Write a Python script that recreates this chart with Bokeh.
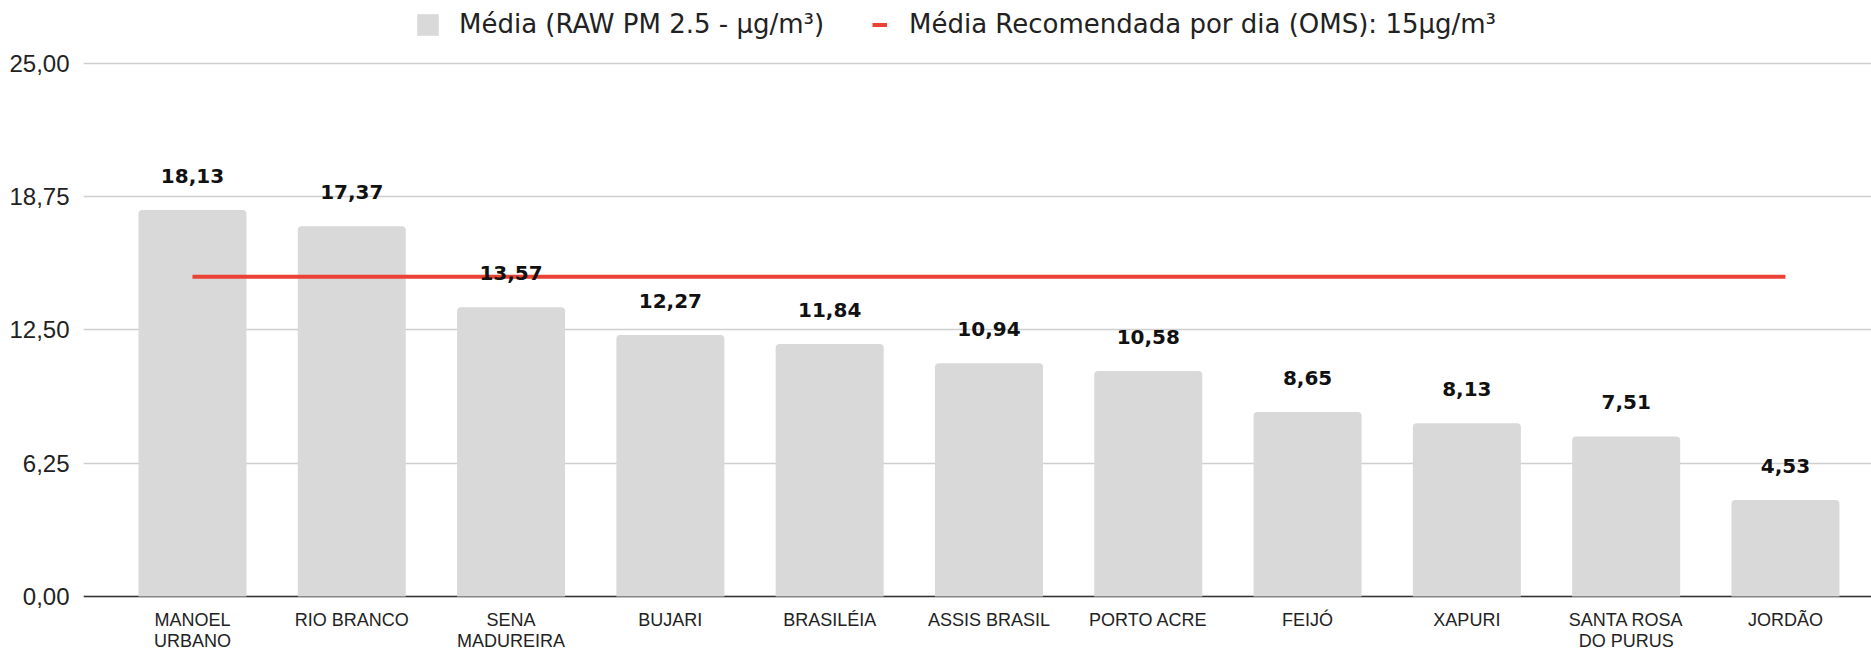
from bokeh.plotting import figure
from bokeh.models import (Range1d, FixedTicker, ColumnDataSource, LabelSet, Span,
                          Legend, LegendItem)
from bokeh.core.properties import value
from bokeh.embed import file_html
from bokeh.resources import INLINE

# ---- data ----
categories = ["MANOEL\nURBANO", "RIO BRANCO", "SENA\nMADUREIRA", "BUJARI", "BRASILÉIA",
              "ASSIS BRASIL", "PORTO ACRE", "FEIJÓ", "XAPURI", "SANTA ROSA\nDO PURUS", "JORDÃO"]
media = [18.13, 17.37, 13.57, 12.27, 11.84, 10.94, 10.58, 8.65, 8.13, 7.51, 4.53]
oms = [15, 15, 15, 15, 15, 15, 15, 15, 15, 15, 15]
y_ticks = [0, 6.25, 12.5, 18.75, 25]
y_tick_labels = ["0,00", "6,25", "12,50", "18,75", "25,00"]
legend_bar = "Média (RAW PM 2.5 - µg/m³)"
legend_line = "Média Recomendada por dia (OMS): 15µg/m³"

value_labels = [f"{v:.2f}".replace(".", ",") for v in media]
line1 = [c.split("\n")[0] for c in categories]
line2 = [c.split("\n")[1] if "\n" in c else "" for c in categories]
xs = list(range(len(categories)))

RED = "#ea4335"

# frame spans the whole canvas height; value axis 0..25 occupies pixels 596..63
p = figure(width=1871, height=651, output_backend="svg", toolbar_location=None, title=None,
           x_range=Range1d(-0.684, 10.54), y_range=Range1d(-2.580, 27.955),
           min_border_left=83, min_border_right=0, min_border_top=0, min_border_bottom=0)
p.outline_line_color = None
p.background_fill_color = "white"
p.border_fill_color = "white"

p.xaxis.visible = False
p.xgrid.visible = False
p.ygrid.ticker = FixedTicker(ticks=y_ticks)
p.ygrid.grid_line_color = "#cfcfcf"
p.ygrid.grid_line_width = 1.5

yax = p.yaxis[0]
yax.ticker = FixedTicker(ticks=y_ticks)
yax.major_label_overrides = {t: l for t, l in zip(y_ticks, y_tick_labels)}
yax.axis_line_color = None
yax.major_tick_line_color = None
yax.minor_tick_line_color = None
yax.major_label_standoff = 8
yax.major_label_text_font = "Liberation Sans"
yax.major_label_text_font_size = "24px"
yax.major_label_text_color = "#222222"

baseline = Span(location=0, dimension="width", line_color="#333333", line_width=1.5,
                level="underlay")
p.add_layout(baseline)

src = ColumnDataSource(dict(x=xs, media=media, oms=oms, vlab=value_labels,
                            l1=line1, l2=line2))

r_bar = p.vbar(x="x", top="media", width=0.678, source=src, fill_color="#d9d9d9",
               line_color=None, border_radius=(4, 4, 0, 0))
r_line = p.line(x="x", y="oms", source=src, line_color=RED, line_width=4)

vl = LabelSet(x="x", y="media", text="vlab", source=src, text_align="center",
              text_baseline="alphabetic", y_offset=27, text_font=value("DejaVu Sans"),
              text_font_style="bold", text_font_size="20px", text_color="#111111")
p.add_layout(vl)

cat_style = dict(source=src, x="x", y_units="screen", text_align="center",
                 text_baseline="alphabetic", text_font=value("Liberation Sans"),
                 text_font_size="18px", text_color="#222222")
p.add_layout(LabelSet(y=26, text="l1", **cat_style))
p.add_layout(LabelSet(y=5, text="l2", **cat_style))

common = dict(orientation="horizontal", padding=0, margin=0, border_line_color=None,
              background_fill_alpha=0, label_text_font="DejaVu Sans",
              label_text_font_size="26px", label_text_color="#222222", glyph_height=27)
leg1 = Legend(items=[LegendItem(label=legend_bar, renderers=[r_bar])], location=(331, 612),
              glyph_width=27, label_standoff=18, **common)
leg2 = Legend(items=[LegendItem(label=legend_line, renderers=[r_line])], location=(789, 612),
              glyph_width=15, label_standoff=22, **common)
p.add_layout(leg1)
p.add_layout(leg2)

open("out.html", "w").write(file_html(p, INLINE))
